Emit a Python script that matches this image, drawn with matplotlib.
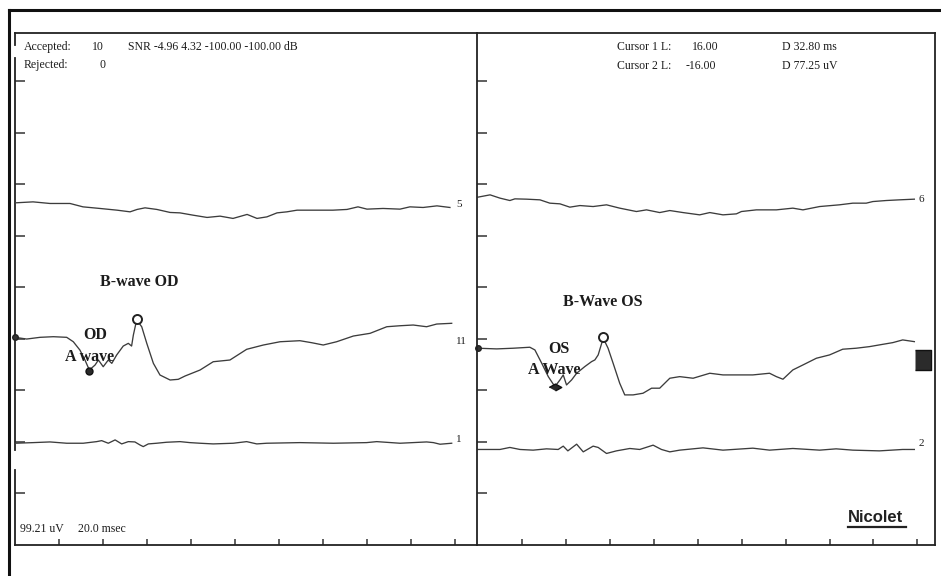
import numpy as np
import matplotlib
matplotlib.use("Agg")
import matplotlib.pyplot as plt
from matplotlib.lines import Line2D

# scale of the recording (per division)
UV_PER_DIV = 99.21
MS_PER_DIV = 20.0

# ---- OD (left eye) traces, time in ms, amplitude in uV ----
od5_t = [0, 8.2, 15.9, 25.0, 30.9, 38.6, 46.4, 52.3, 55.5, 59.1, 64.5, 70.5, 75.0, 80.9,
         87.3, 93.2, 99.1, 105.5, 110.0, 114.5, 119.1, 123.6, 128.2, 137.3, 144.5, 150.9,
         155.9, 160.0, 167.3, 175.0, 179.5, 185.5, 191.8, 197.7]
od5_uv = [0, 1.9, -1.2, -1.2, -7.7, -10.8, -14.1, -17.3, -12.7, -9.6, -12.7, -18.5, -19.3, -23.7,
          -28.1, -25.6, -30.0, -22.3, -30.0, -27.0, -19.3, -17.3, -14.1, -14.1, -14.1, -12.7,
          -7.7, -12.1, -10.8, -12.1, -7.7, -8.9, -5.8, -8.9]

od11_t = [0, 5.3, 11.4, 17.4, 23.5, 26.5, 29.5, 31.8, 33.8, 36.4, 37.9, 40.1, 42.4, 44.0,
          46.2, 49.2, 51.5, 53.0, 53.8, 55.3, 57.6, 59.9, 62.9, 65.9, 70.5, 74.2, 77.3, 84.1,
          90.1, 97.7, 105.3, 112.9, 120.5, 129.5, 134.9, 140.1, 146.2, 153.8, 161.4, 169.0,
          175.0, 181.0, 187.1, 191.7, 198.5]
od11_uv = [0, -3.3, 0, 1.2, 0, -8.5, -24.5, -43.7, -63.0, -53.3, -43.7, -56.6, -43.7, -50.1,
           -34.1, -16.8, -11.6, -16.8, 4.4, 33.3, 20.4, -11.6, -50.1, -72.6, -82.2, -80.9, -74.5, -63.0,
           -47.0, -43.7, -23.1, -14.8, -8.5, -6.5, -10.4, -14.8, -8.5, 2.5, 7.7, 20.4,
           22.3, 23.7, 20.4, 25.6, 27.0]

od1_t = [0, 8.3, 15.9, 23.5, 31.0, 37.1, 39.4, 42.4, 45.5, 48.5, 51.5, 54.5, 56.8, 58.3,
         60.6, 64.4, 68.9, 75.0, 79.5, 84.1, 90.1, 99.2, 105.3, 109.9, 114.4, 129.5, 144.7,
         159.8, 164.4, 175.0, 187.1, 190.2, 193.2, 198.5]
od1_uv = [0, 1.2, 2.5, 0, 0, 3.1, 5.0, 0, 6.4, -1.3, 3.1, 2.5, -3.3, -6.5,
          -1.3, 0, 1.9, 3.1, 1.2, 0, -1.3, 0, 3.1, -1.3, 0, 1.2, 0,
          1.2, 3.1, 0, 2.5, 1.2, -1.9, 0]

# ---- OS (right eye) traces ----
os6_t = [0, 5.5, 10.0, 14.5, 16.8, 22.1, 28.2, 32.7, 37.3, 41.8, 46.4, 52.4, 58.5, 64.5,
         72.1, 76.7, 82.7, 87.3, 93.3, 100.9, 105.5, 111.5, 117.6, 119.9, 126.7, 135.8,
         143.3, 147.9, 155.5, 164.5, 170.6, 176.7, 179.7, 185.8, 191.8, 198.6]
os6_uv = [0, 4.4, -1.9, -6.5, -3.3, -3.9, -5.2, -11.6, -12.9, -19.3, -16.2, -18.1, -14.8, -21.2,
          -27.7, -24.5, -29.7, -25.8, -29.7, -34.1, -29.7, -34.1, -32.2, -27.7, -24.5, -24.5,
          -21.2, -24.5, -18.1, -14.8, -11.6, -11.6, -8.5, -6.5, -5.2, -3.9]

os3_t = [0, 8.5, 16.0, 23.6, 25.9, 29.0, 32.0, 35.0, 37.3, 38.8, 40.3, 42.6, 44.9, 48.6,
         51.7, 53.2, 54.7, 57.0, 59.2, 61.5, 64.5, 66.8, 70.6, 75.1, 79.0, 82.7, 87.3, 91.8,
         97.9, 105.5, 111.5, 117.6, 125.1, 132.7, 135.8, 138.8, 143.3, 147.9, 154.0, 160.0,
         166.0, 172.1, 178.2, 182.7, 188.8, 193.3, 198.6]
os3_uv = [0, -1.3, 0, 1.9, -3.3, -28.9, -54.7, -74.0, -61.1, -51.4, -70.7, -61.1, -48.2, -35.4,
          -25.8, -22.5, -12.9, 19.3, 0, -28.9, -67.4, -89.9, -89.9, -86.7, -77.0, -77.0, -57.8, -54.7,
          -57.8, -48.2, -51.4, -51.4, -51.4, -48.2, -54.7, -59.7, -41.8, -32.2, -19.3, -12.9,
          -1.9, 0, 3.1, 6.4, 10.8, 16.0, 12.7]

os2_t = [0, 10.0, 14.5, 19.1, 25.1, 31.2, 36.5, 38.8, 40.9, 44.9, 47.9, 52.4, 54.7, 58.5,
         63.0, 69.1, 73.6, 79.7, 83.5, 87.3, 91.8, 102.4, 111.5, 125.1, 132.7, 143.3, 155.5,
         163.0, 170.6, 182.7, 193.3, 198.6]
os2_uv = [0, 0, 3.9, 0, -1.3, 1.2, 0, 6.4, -2.7, 10.2, -4.6, 6.4, 3.9, -7.7,
          -2.7, 1.9, 0, 8.3, 0, -4.6, -1.3, 3.1, -1.3, 2.5, -1.3, 1.9, -1.3,
          1.2, -1.3, -2.7, 0, 0]

# baseline level of each trace above the bottom axis (uV) and its channel number
od_base = [659, 400, 196]
od_labels = ["5", "11", "1"]
os_base = [670, 379, 184]
os_labels = ["6", "", "2"]

W, H = 941, 576
fig = plt.figure(figsize=(W / 100, H / 100), dpi=100)
fig.patch.set_facecolor("white")


def fx(px):
    return px / W


def fy(py):
    return 1 - py / H


SERIF = ["Liberation Serif", "DejaVu Serif"]
INK = "#1c1c1c"
TRACE = "#3c3c3c"

top, bottom = 33, 545
axL = fig.add_axes([fx(15), fy(bottom), (477 - 15) / W, (bottom - top) / H])
axR = fig.add_axes([fx(477), fy(bottom), (935 - 477) / W, (bottom - top) / H])

ytop = 9.94 * UV_PER_DIV
axL.set_xlim(0, 10.5 * MS_PER_DIV)
axR.set_xlim(-0.45, 10.4 * MS_PER_DIV)

for ax in (axL, axR):
    ax.set_ylim(0, ytop)
    ax.set_xticks(np.arange(1, 11) * MS_PER_DIV)
    ax.set_yticks(np.arange(1, 10) * UV_PER_DIV)
    ax.tick_params(axis="y", direction="in", length=7.5, width=1.1, color="#333333",
                   labelleft=False, right=False)
    ax.tick_params(axis="x", direction="in", length=4, width=1.1, color="#333333",
                   labelbottom=False, top=False)
    for s in ax.spines.values():
        s.set_linewidth(1.3)
        s.set_color("#222222")
    ax.set_facecolor("none")

axL.spines["right"].set_visible(False)
axL.spines["left"].set_visible(False)
# left axis of OD panel is drawn in broken pieces
for lo, hi in [(0, 0.147), (0.186, 0.951), (0.977, 1.0)]:
    axL.axvline(0, lo, hi, color="#222222", lw=1.3, clip_on=False)


def draw_panel(ax, traces, bases, labels, dys):
    for (t, v), b, lab, dy in zip(traces, bases, labels, dys):
        ax.plot(t, np.array(v) + b, color=TRACE, lw=0.95, clip_on=False)
        if lab:
            ax.text(200.6, b + dy, lab, family=SERIF, fontsize=8, color=INK,
                    ha="left", va="center")


draw_panel(axL, [(od5_t, od5_uv), (od11_t, od11_uv), (od1_t, od1_uv)],
           od_base, od_labels, [-4, -9, 8])
draw_panel(axR, [(os6_t, os6_uv), (os3_t, os3_uv), (os2_t, os2_uv)],
           os_base, os_labels, [-5, 0, 12])


def mark_ab(ax, t, v, base, trough_marker, trough_size):
    t = np.array(t)
    v = np.array(v)
    early = t < 100
    ib = np.argmax(np.where(early, v, -1e9))
    ia = np.argmin(np.where(t < t[ib], v, 1e9))
    ax.plot(t[ib], v[ib] + base + 2, marker="o", ms=6.5, mfc="white", mec="#222222",
            mew=1.4, clip_on=False)
    ax.plot(t[ia], v[ia] + base - 1, marker=trough_marker, ms=trough_size,
            mfc="#2a2a2a", mec="#111111", mew=1.0, clip_on=False)
    ax.plot(t[0], v[0] + base, marker="o", ms=4, mfc="#333333", mec="#222222", clip_on=False)


mark_ab(axL, od11_t, od11_uv, od_base[1], "o", 5)
mark_ab(axR, os3_t, os3_uv, os_base[1], [(-1, 0), (0, 0.55), (1, 0), (0, -0.55)], 9)

# channel marker box at the end of the OS trace
axR.plot(os3_t[-1] + 4, os_base[1] - 23, marker=[(-0.45, -0.55), (0.45, -0.55), (0.45, 0.55), (-0.45, 0.55)],
         ms=14, mfc="#2b2b2b", mec="#111111", clip_on=False)

# wave annotations
bold = dict(family=SERIF, fontsize=11.5, fontweight="bold", color=INK, va="center", ha="left")
axL.text(38.6, 507, "B-wave OD", **bold)
axL.text(30.9, 405, "OD", **bold)
axL.text(22.7, 362, "A wave", **bold)
axR.text(38.6, 468, "B-Wave OS", **bold)
axR.text(31.8, 378, "OS", **bold)
axR.text(22.7, 337, "A Wave", **bold)

# header / footer text
hdr = dict(family=SERIF, fontsize=8.5, color=INK, va="center", ha="left")
fig.text(fx(24), fy(47), "Accepted:", **hdr)
fig.text(fx(92), fy(47), "10", **hdr)
fig.text(fx(128), fy(47), "SNR -4.96 4.32 -100.00 -100.00 dB", **hdr)
fig.text(fx(24), fy(65), "Rejected:", **hdr)
fig.text(fx(100), fy(65), "0", **hdr)
fig.text(fx(617), fy(47), "Cursor 1 L:", **hdr)
fig.text(fx(692), fy(47), "16.00", **hdr)
fig.text(fx(782), fy(47), "D 32.80 ms", **hdr)
fig.text(fx(617), fy(66), "Cursor 2 L:", **hdr)
fig.text(fx(686), fy(66), "-16.00", **hdr)
fig.text(fx(782), fy(66), "D 77.25 uV", **hdr)
fig.text(fx(20), fy(529), f"{UV_PER_DIV:.2f} uV", **hdr)
fig.text(fx(78), fy(529), f"{MS_PER_DIV:.1f} msec", **hdr)

fig.text(fx(848), fy(517), "Nicolet", family=["Liberation Sans", "DejaVu Sans"],
         fontsize=12, fontweight="bold", color="#222222", va="center", ha="left")
fig.add_artist(Line2D([fx(848), fx(906)], [fy(527), fy(527)], color="#222222", lw=1.6))

# outer frame of the printout
fig.add_artist(Line2D([fx(9), fx(9)], [fy(10), 0], color="#111111", lw=2.2))
fig.add_artist(Line2D([fx(9), 1], [fy(10), fy(10)], color="#111111", lw=2.2))

fig.savefig("out.png", dpi=100, facecolor="white")
